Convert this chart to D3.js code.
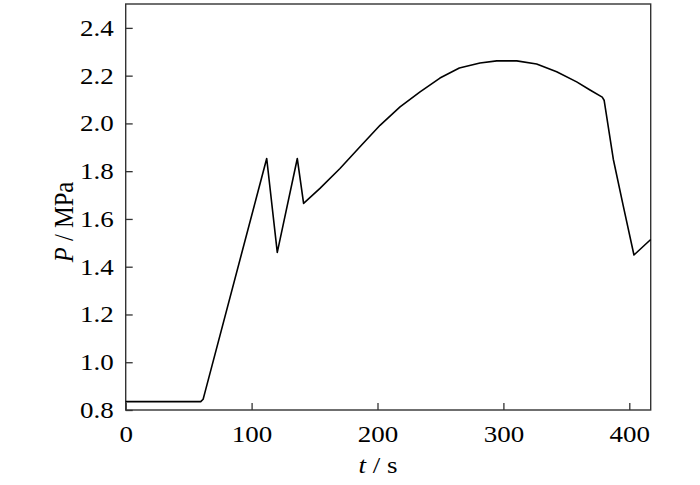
<!DOCTYPE html>
<html>
<head>
<meta charset="utf-8">
<script src="https://cdn.jsdelivr.net/npm/d3@7"></script>
<style>
  html, body { margin: 0; padding: 0; background: #fff; }
  svg text { font-family: "Liberation Serif", "Times New Roman", serif; fill: #000; }
</style>
</head>
<body>
<svg id="chart" width="700" height="485"></svg>
<script>
// Time (s)
const timeValues = [0, 59.6, 61.5, 63, 112, 120.4, 136.3, 141.3, 154.3, 170.2, 186.1, 202, 217.9, 233.8, 249.6, 265, 281.4, 294.7, 310.6, 326.4, 342.3, 358.2, 368.8, 378.5, 380, 387.3, 395.2, 403.7, 417];
// Pressure (MPa)
const pressureValues = [0.835, 0.835, 0.845, 0.875, 1.853, 1.46, 1.853, 1.665, 1.728, 1.811, 1.902, 1.992, 2.069, 2.132, 2.19, 2.232, 2.253, 2.262, 2.262, 2.249, 2.216, 2.174, 2.14, 2.11, 2.097, 1.85, 1.655, 1.449, 1.514];
const xTicks = [0, 100, 200, 300, 400];
const yTicks = [0.8, 1.0, 1.2, 1.4, 1.6, 1.8, 2.0, 2.2, 2.4];

const data = timeValues.map((t, i) => ({ t, p: pressureValues[i] }));

const W = 700, H = 485;
const margin = { left: 125.7, right: W - 650.7, top: 4, bottom: H - 410 };
const svg = d3.select("#chart");

const x = d3.scaleLinear().domain([0, 417]).range([margin.left, W - margin.right]);
const y = d3.scaleLinear().domain([0.8, 2.5]).range([H - margin.bottom, margin.top]);

const fontSize = 23.5;
const stretch = 1.15;
const axisColor = "#333";

function stretchText(sel) {
  sel.each(function () {
    const t = d3.select(this);
    const xv = +t.attr("x") || 0;
    t.attr("x", 0).attr("transform", `translate(${xv},0) scale(${stretch},1)`);
  });
}

// Frame
svg.append("rect")
  .attr("x", x(0)).attr("y", y(2.5))
  .attr("width", x(417) - x(0)).attr("height", y(0.8) - y(2.5))
  .attr("fill", "none").attr("stroke", axisColor).attr("stroke-width", 1.4);

// Bottom axis
const xAxis = svg.append("g")
  .attr("transform", `translate(0,${y(0.8)})`)
  .call(d3.axisBottom(x).tickValues(xTicks).tickFormat(d3.format("d")).tickSizeInner(-7).tickSizeOuter(0).tickPadding(15));
xAxis.select(".domain").remove();
xAxis.selectAll(".tick line").attr("stroke", axisColor).attr("stroke-width", 1.3);
xAxis.selectAll(".tick text").attr("font-size", fontSize).attr("font-family", "Liberation Serif").attr("fill", "#000").call(stretchText);

// Left axis
const yAxis = svg.append("g")
  .attr("transform", `translate(${x(0)},0)`)
  .call(d3.axisLeft(y).tickValues(yTicks).tickFormat(d3.format(".1f")).tickSizeInner(-7).tickSizeOuter(0).tickPadding(12));
yAxis.select(".domain").remove();
yAxis.selectAll(".tick line").attr("stroke", axisColor).attr("stroke-width", 1.3);
yAxis.selectAll(".tick text").attr("font-size", fontSize).attr("font-family", "Liberation Serif").attr("fill", "#000").call(stretchText);

// Curve
const line = d3.line().x(d => x(d.t)).y(d => y(d.p)).curve(d3.curveLinear);
svg.append("path")
  .datum(data)
  .attr("d", line)
  .attr("fill", "none")
  .attr("stroke", "#000")
  .attr("stroke-width", 1.6)
  .attr("stroke-linejoin", "round");

// X label
const xl = svg.append("text")
  .attr("transform", `translate(378,473) scale(${stretch},1)`)
  .attr("text-anchor", "middle")
  .attr("font-size", fontSize);
xl.append("tspan").attr("font-style", "italic").text("t");
xl.append("tspan").text(" / s");

// Y label
const yl = svg.append("text")
  .attr("transform", `translate(73,222) scale(${stretch},1) rotate(-90)`)
  .attr("text-anchor", "middle")
  .attr("font-size", 24.5);
yl.append("tspan").attr("font-style", "italic").text("P");
yl.append("tspan").text(" / MPa");
</script>
</body>
</html>
